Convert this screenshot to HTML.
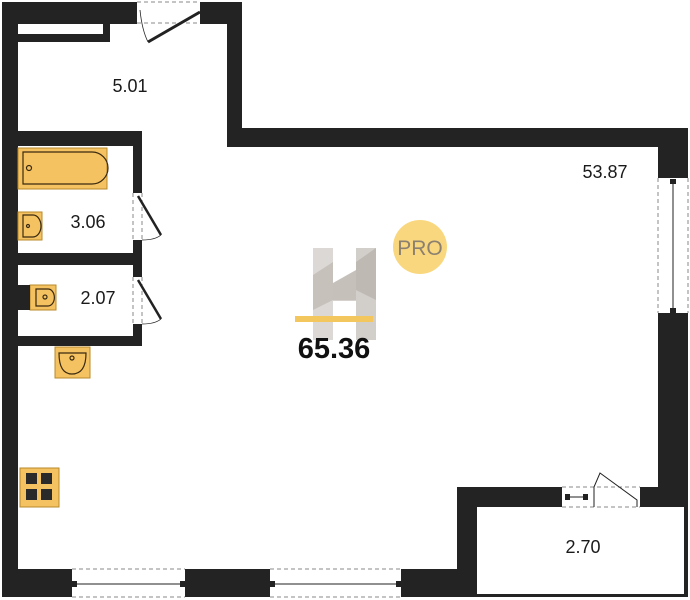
<!DOCTYPE html>
<html><head><meta charset="utf-8"><style>
html,body{margin:0;padding:0;background:#fff;}
svg{display:block;}
text{font-family:"Liberation Sans",sans-serif;fill:#1a1a1a;}
</style></head><body>
<svg width="690" height="600" viewBox="0 0 690 600" xmlns="http://www.w3.org/2000/svg">
<g fill="#232323">
<rect x="2" y="2" width="135" height="22"/>
<rect x="2" y="24" width="108" height="18"/>
<rect x="2" y="2" width="16" height="595"/>
<rect x="200" y="2" width="42" height="22"/>
<rect x="227" y="2" width="15" height="145"/>
<rect x="227" y="128" width="461" height="19"/>
<rect x="658" y="128" width="30" height="50"/>
<rect x="658" y="313" width="30" height="194"/>
<rect x="17" y="131" width="125" height="15"/>
<rect x="133" y="131" width="9" height="62"/>
<rect x="133" y="240" width="9" height="37"/>
<rect x="133" y="324" width="9" height="21"/>
<rect x="17" y="253" width="125" height="12"/>
<rect x="17" y="336" width="125" height="10"/>
<rect x="457" y="487" width="105" height="20"/>
<rect x="640" y="487" width="48" height="20"/>
<rect x="457" y="487" width="20" height="110"/>
<rect x="684" y="487" width="4" height="110"/>
<rect x="457" y="594" width="231" height="3"/>
<rect x="2" y="569" width="70" height="28"/>
<rect x="185" y="569" width="85" height="28"/>
<rect x="401" y="569" width="60" height="28"/>
</g>
<rect x="18" y="24" width="85" height="10" fill="#fff"/>
<g stroke="#888" stroke-dasharray="4,3" fill="none" stroke-width="1">
<line x1="137" y1="2" x2="200" y2="2"/><line x1="137" y1="23" x2="200" y2="23"/>
<line x1="133" y1="193" x2="133" y2="240"/><line x1="142" y1="193" x2="142" y2="240"/>
<line x1="133" y1="277" x2="133" y2="324"/><line x1="142" y1="277" x2="142" y2="324"/>
<line x1="658" y1="178" x2="658" y2="313"/><line x1="688" y1="178" x2="688" y2="313"/>
<line x1="72" y1="569" x2="185" y2="569"/><line x1="72" y1="597" x2="185" y2="597"/>
<line x1="270" y1="569" x2="401" y2="569"/><line x1="270" y1="597" x2="401" y2="597"/>
<line x1="562" y1="487" x2="640" y2="487"/><line x1="562" y1="507" x2="640" y2="507"/>
</g>
<g stroke="#222" fill="none">
<line x1="148" y1="42" x2="200" y2="12" stroke-width="3"/>
<path d="M140,10 Q142,30 148,42" stroke-width="0.8"/>
<line x1="138" y1="196" x2="161" y2="235" stroke-width="2.5"/>
<path d="M142,240 Q155,240 161,235" stroke-width="0.8"/>
<line x1="138" y1="280" x2="161" y2="319" stroke-width="2.5"/>
<path d="M142,324 Q155,324 161,319" stroke-width="0.8"/>
<line x1="673" y1="182" x2="673" y2="310" stroke-width="1"/>
<line x1="74" y1="584" x2="183" y2="584" stroke-width="1"/>
<line x1="272" y1="584" x2="399" y2="584" stroke-width="1"/>
<line x1="567" y1="497" x2="585" y2="497" stroke-width="1"/>
<path d="M594,507 L594,487 L600,473 L637,500 L637,507" stroke-width="1"/>
</g>
<g fill="#222">
<rect x="670" y="179" width="6" height="5"/><rect x="670" y="308" width="6" height="5"/>
<rect x="72" y="581" width="5" height="6"/><rect x="180" y="581" width="5" height="6"/>
<rect x="270" y="581" width="5" height="6"/><rect x="396" y="581" width="5" height="6"/>
<rect x="565" y="494" width="5" height="6"/><rect x="583" y="494" width="5" height="6"/>
</g>
<g fill="#f5c262" stroke="#b88a2a" stroke-width="1">
<rect x="18" y="148" width="89" height="41"/>
<rect x="18" y="212" width="24" height="28"/>
<rect x="30" y="285" width="26" height="25"/>
<rect x="55" y="347" width="35" height="31"/>
<rect x="20" y="468" width="39" height="39"/>
</g>
<g fill="none" stroke="#3a2a10" stroke-width="1.2">
<path d="M23,152 H92 A15,15 0 0 1 92,184 H23 Z"/>
<circle cx="29" cy="168" r="2.5"/>
<path d="M23,215 H33 A8,11 0 0 1 33,237 H23 Z"/>
<circle cx="28" cy="226" r="1.5"/>
<path d="M36,289 H48 A6,8 0 0 1 48,306 H36 Z"/>
<circle cx="45" cy="297" r="2"/>
<path d="M59,353 H86 Q86,374 72,374 Q59,374 59,353 Z"/>
<circle cx="72" cy="358" r="2"/>
</g>
<rect x="18" y="285" width="12" height="25" fill="#232323"/>
<g fill="#2a2a2a"><rect x="26" y="473" width="11" height="11"/><rect x="41" y="473" width="11" height="11"/><rect x="26" y="489" width="11" height="11"/><rect x="41" y="489" width="11" height="11"/></g>
<g opacity="0.85">
<rect x="313" y="248" width="20" height="92" fill="#d6d2ce"/>
<rect x="356" y="248" width="20" height="92" fill="#cbc6c1"/>
<rect x="333" y="283" width="23" height="18" fill="#cfcac4"/>
<polygon points="313,275 333,262 333,300 313,310" fill="#bdb7b0"/>
<polygon points="333,283 356,270 356,300 333,300" fill="#bcb6af"/>
<polygon points="356,262 376,248 376,300 356,290" fill="#b3ada6"/>
</g>
<rect x="295" y="316" width="78" height="6" fill="#f3c65e"/>
<circle cx="420" cy="247" r="27" fill="#f9d77e"/>
<text x="420" y="255" font-size="21" text-anchor="middle" style="fill:#8c8070">PRO</text>
<text x="334" y="358" font-size="29" font-weight="bold" text-anchor="middle" style="fill:#111">65.36</text>
<text x="130" y="92" font-size="18" text-anchor="middle">5.01</text>
<text x="605" y="178" font-size="18" text-anchor="middle">53.87</text>
<text x="88" y="228" font-size="18" text-anchor="middle">3.06</text>
<text x="98" y="304" font-size="18" text-anchor="middle">2.07</text>
<text x="583" y="553" font-size="18" text-anchor="middle">2.70</text>
</svg>
</body></html>
